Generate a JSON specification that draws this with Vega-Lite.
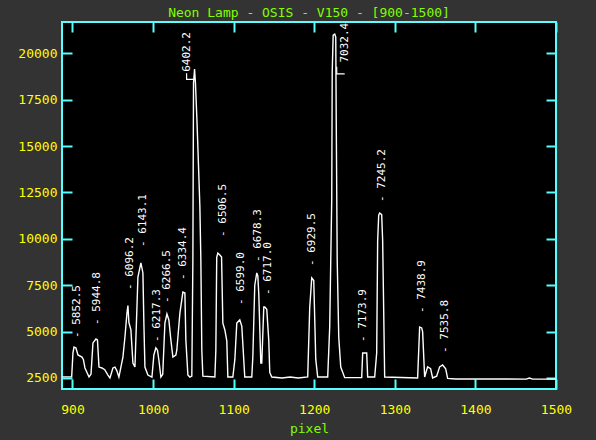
{
  "$schema": "https://vega.github.io/schema/vega-lite/v6.json",
  "width": 494,
  "height": 367,
  "autosize": {"type": "none"},
  "padding": {"left": 62, "top": 22, "right": 40, "bottom": 51},
  "background": "#333333",
  "title": {
    "text": "Neon Lamp - OSIS - V150 - [900-1500]",
    "color": "#80ff00",
    "font": "DejaVu Sans Mono",
    "fontSize": 13,
    "fontWeight": "normal",
    "anchor": "middle",
    "offset": 1
  },
  "config": {
    "view": {"fill": "black", "stroke": "#55ffff", "strokeWidth": 2},
    "axis": {
      "domain": false,
      "grid": false,
      "tickColor": "#55ffff",
      "tickWidth": 2,
      "tickSize": -10,
      "labelColor": "#ffff00",
      "labelFont": "DejaVu Sans Mono",
      "labelFontSize": 13,
      "labelOverlap": false,
      "labelFlush": false,
      "format": "d",
      "titleColor": "#80ff00",
      "titleFont": "DejaVu Sans Mono",
      "titleFontSize": 13,
      "titleFontWeight": "normal"
    }
  },
  "datasets": {
    "spec": [
      {"px": 887, "c": 2560}, {"px": 899, "c": 2560}, {"px": 900.6, "c": 3850}, {"px": 901.9, "c": 4170},
      {"px": 904.3, "c": 4120}, {"px": 906.8, "c": 3740}, {"px": 911.8, "c": 3630}, {"px": 913.5, "c": 3500},
      {"px": 915.5, "c": 3040}, {"px": 918, "c": 2800}, {"px": 920.5, "c": 2560}, {"px": 923, "c": 2700},
      {"px": 925.4, "c": 4390}, {"px": 929.1, "c": 4600}, {"px": 931, "c": 4550}, {"px": 932.9, "c": 3090},
      {"px": 936.6, "c": 3040}, {"px": 940, "c": 2950}, {"px": 944, "c": 2660}, {"px": 946.5, "c": 2500},
      {"px": 950.2, "c": 3040}, {"px": 952.7, "c": 3090}, {"px": 955, "c": 2900}, {"px": 957.6, "c": 2550},
      {"px": 962.6, "c": 3630}, {"px": 965.1, "c": 4710}, {"px": 967.6, "c": 6000}, {"px": 968.8, "c": 6400}, {"px": 970, "c": 5500},
      {"px": 972.5, "c": 5090}, {"px": 975, "c": 3310}, {"px": 977.5, "c": 3090}, {"px": 980, "c": 6330},
      {"px": 981.2, "c": 7940}, {"px": 984.9, "c": 8700}, {"px": 987.4, "c": 8160}, {"px": 988.6, "c": 5460},
      {"px": 989.9, "c": 3090}, {"px": 993.6, "c": 2660}, {"px": 998.6, "c": 2550}, {"px": 1001, "c": 3740},
      {"px": 1003.5, "c": 4120}, {"px": 1005.5, "c": 4000}, {"px": 1007.2, "c": 3470}, {"px": 1009.7, "c": 2550},
      {"px": 1012, "c": 2700}, {"px": 1014.7, "c": 5460}, {"px": 1017.2, "c": 5950}, {"px": 1019.6, "c": 5630},
      {"px": 1022.1, "c": 4550}, {"px": 1024.6, "c": 3630}, {"px": 1028.3, "c": 3740}, {"px": 1029.5, "c": 4010},
      {"px": 1033.3, "c": 6000}, {"px": 1037, "c": 7130}, {"px": 1039.5, "c": 7080}, {"px": 1040.7, "c": 4550},
      {"px": 1043.2, "c": 2660}, {"px": 1045.7, "c": 2550}, {"px": 1048.1, "c": 2600}, {"px": 1049.4, "c": 8860},
      {"px": 1050.2, "c": 18400}, {"px": 1051.5, "c": 19150}, {"px": 1052.6, "c": 18400}, {"px": 1054.3, "c": 16560},
      {"px": 1055.6, "c": 14950}, {"px": 1058.1, "c": 11710}, {"px": 1059.3, "c": 8860}, {"px": 1060.5, "c": 4000},
      {"px": 1061.8, "c": 2600}, {"px": 1076.7, "c": 2550}, {"px": 1077.9, "c": 4000}, {"px": 1079, "c": 9000},
      {"px": 1080.4, "c": 9230}, {"px": 1082.9, "c": 9130}, {"px": 1085, "c": 9020}, {"px": 1086.6, "c": 5460},
      {"px": 1089.1, "c": 5090}, {"px": 1091.5, "c": 4500}, {"px": 1092.8, "c": 2550}, {"px": 1099, "c": 2550},
      {"px": 1101.5, "c": 3500}, {"px": 1103.9, "c": 5460}, {"px": 1107.6, "c": 5630}, {"px": 1110.1, "c": 5300},
      {"px": 1113.8, "c": 2550}, {"px": 1122.5, "c": 2550}, {"px": 1123.8, "c": 3630}, {"px": 1126.2, "c": 7500},
      {"px": 1128.7, "c": 8160}, {"px": 1130, "c": 8000}, {"px": 1131.2, "c": 7000}, {"px": 1133.7, "c": 3300},
      {"px": 1134.9, "c": 3300}, {"px": 1137.4, "c": 6330}, {"px": 1138.6, "c": 6330}, {"px": 1141.1, "c": 6200},
      {"px": 1143.6, "c": 4500}, {"px": 1144.8, "c": 2800}, {"px": 1147.3, "c": 2550}, {"px": 1160, "c": 2500},
      {"px": 1170, "c": 2550}, {"px": 1180, "c": 2500}, {"px": 1191.9, "c": 2560}, {"px": 1194.4, "c": 6300},
      {"px": 1196.9, "c": 7890}, {"px": 1199.4, "c": 7750}, {"px": 1201.9, "c": 3500}, {"px": 1204.3, "c": 2550},
      {"px": 1216.7, "c": 2550}, {"px": 1219.2, "c": 5250}, {"px": 1220.5, "c": 8860}, {"px": 1221.7, "c": 12090},
      {"px": 1222.3, "c": 18990}, {"px": 1223.5, "c": 20980}, {"px": 1225.4, "c": 21035}, {"px": 1226.7, "c": 20870},
      {"px": 1227.3, "c": 16400}, {"px": 1228.5, "c": 8860}, {"px": 1230.4, "c": 4710}, {"px": 1232.9, "c": 3090},
      {"px": 1237.8, "c": 2520}, {"px": 1258.9, "c": 2520}, {"px": 1260.1, "c": 3850}, {"px": 1262.6, "c": 3850},
      {"px": 1265.1, "c": 3850}, {"px": 1266.3, "c": 2550}, {"px": 1275, "c": 2550}, {"px": 1277.5, "c": 3850},
      {"px": 1278.7, "c": 9900}, {"px": 1280, "c": 11280}, {"px": 1281.2, "c": 11390}, {"px": 1283.7, "c": 11300},
      {"px": 1284.9, "c": 9900}, {"px": 1287.4, "c": 2550}, {"px": 1328.3, "c": 2500}, {"px": 1330.8, "c": 5250},
      {"px": 1333.3, "c": 5200}, {"px": 1334.5, "c": 5000}, {"px": 1337, "c": 2550}, {"px": 1340.7, "c": 3100},
      {"px": 1344.4, "c": 3000}, {"px": 1346.9, "c": 2500}, {"px": 1351.9, "c": 2600}, {"px": 1355.6, "c": 3100},
      {"px": 1359.3, "c": 3200}, {"px": 1363.1, "c": 3000}, {"px": 1365.5, "c": 2480}, {"px": 1375.5, "c": 2450},
      {"px": 1400, "c": 2450}, {"px": 1463, "c": 2440}, {"px": 1467, "c": 2500}, {"px": 1471, "c": 2440},
      {"px": 1500, "c": 2440}
    ],
    "labels": [
      {"px": 905.6, "c": 4655, "t": "- 5852.5"},
      {"px": 930.4, "c": 5356, "t": "- 5944.8"},
      {"px": 971.3, "c": 7240, "t": "- 6096.2"},
      {"px": 987.4, "c": 9560, "t": "- 6143.1"},
      {"px": 1004.8, "c": 4440, "t": "- 6217.3"},
      {"px": 1017.2, "c": 6540, "t": "- 6266.5"},
      {"px": 1037, "c": 7780, "t": "- 6334.4"},
      {"px": 1041.8, "c": 19000, "t": "6402.2"},
      {"px": 1086.6, "c": 10100, "t": "- 6506.5"},
      {"px": 1108.9, "c": 6430, "t": "- 6599.0"},
      {"px": 1130, "c": 8750, "t": "- 6678.3"},
      {"px": 1142.4, "c": 6970, "t": "- 6717.0"},
      {"px": 1196.9, "c": 8530, "t": "- 6929.5"},
      {"px": 1237.6, "c": 19500, "t": "7032.4"},
      {"px": 1260, "c": 4440, "t": "- 7173.9"},
      {"px": 1283.7, "c": 11980, "t": "- 7245.2"},
      {"px": 1333.3, "c": 6000, "t": "- 7438.9"},
      {"px": 1361.8, "c": 3850, "t": "- 7535.8"}
    ],
    "hooks": [
      {"g": "a", "o": 1, "px": 1041.6, "c": 18930},
      {"g": "a", "o": 2, "px": 1041.6, "c": 18590},
      {"g": "a", "o": 3, "px": 1051.7, "c": 18590},
      {"g": "b", "o": 1, "px": 1227.9, "c": 19270},
      {"g": "b", "o": 2, "px": 1227.9, "c": 18890},
      {"g": "b", "o": 3, "px": 1237.8, "c": 18890}
    ]
  },
  "layer": [
    {
      "data": {"name": "spec"},
      "mark": {"type": "line", "color": "white", "strokeWidth": 1.4, "interpolate": "linear"},
      "encoding": {
        "x": {
          "field": "px", "type": "quantitative",
          "scale": {"domain": [887, 1500], "nice": false, "zero": false},
          "axis": {"orient": "bottom", "values": [900, 1000, 1100, 1200, 1300, 1400, 1500], "labelPadding": 24, "title": "pixel", "titlePadding": 6}
        },
        "y": {
          "field": "c", "type": "quantitative",
          "scale": {"domain": [1907, 21686], "nice": false, "zero": false},
          "axis": {"orient": "left", "values": [2500, 5000, 7500, 10000, 12500, 15000, 17500, 20000], "labelPadding": 15, "title": null}
        }
      }
    },
    {
      "data": {"name": "labels"},
      "mark": {"type": "text", "color": "white", "font": "DejaVu Sans Mono", "fontSize": 11, "angle": 270, "align": "left", "baseline": "middle"},
      "encoding": {
        "x": {"field": "px", "type": "quantitative", "axis": {"orient": "top", "values": [900, 1000, 1100, 1200, 1300, 1400, 1500], "labels": false, "title": null}},
        "y": {"field": "c", "type": "quantitative", "axis": {"orient": "right", "values": [2500, 5000, 7500, 10000, 12500, 15000, 17500, 20000], "labels": false, "title": null}},
        "text": {"field": "t", "type": "nominal"}
      }
    },
    {
      "data": {"name": "hooks"},
      "mark": {"type": "line", "color": "white", "strokeWidth": 1.2},
      "encoding": {
        "x": {"field": "px", "type": "quantitative", "axis": null},
        "y": {"field": "c", "type": "quantitative", "axis": null},
        "detail": {"field": "g", "type": "nominal"},
        "order": {"field": "o", "type": "quantitative"}
      }
    }
  ],
  "resolve": {"axis": {"x": "independent", "y": "independent"}}
}
